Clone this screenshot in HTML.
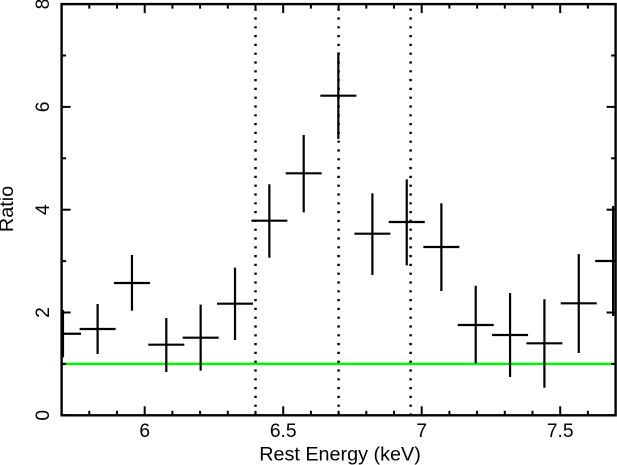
<!DOCTYPE html>
<html>
<head>
<meta charset="utf-8">
<style>
html,body{margin:0;padding:0;background:#fff;width:617px;height:465px;overflow:hidden}
svg{display:block}
text{font-family:"Liberation Sans",Arial,sans-serif;fill:#000}
</style>
</head>
<body>
<svg id="chart" width="617" height="465" viewBox="0 0 617 465" xmlns="http://www.w3.org/2000/svg"></svg>
<script>
var energies = [5.705,5.830,5.954,6.078,6.202,6.326,6.450,6.574,6.699,6.822,6.946,7.071,7.195,7.319,7.443,7.567,7.691];
var ratios = [1.587,1.679,2.574,1.374,1.510,2.171,3.786,4.708,6.218,3.533,3.761,3.274,1.757,1.562,1.401,2.179,3.002];
var ratioHigh = [2.049,2.165,3.119,1.893,2.152,2.872,4.494,5.453,7.062,4.319,4.591,4.125,2.521,2.379,2.257,3.138,4.072];
var ratioLow = [1.128,1.193,2.035,0.842,0.868,1.465,3.066,3.949,5.375,2.730,2.918,2.418,1.012,0.745,0.537,1.212,1.932];
var binHalfWidth = 0.065;
var lineEnergies = [6.4,6.7,6.96];
var referenceRatio = 1;
var xMajorTicks = [6,6.5,7,7.5];
var xMajorLabels = ["6","6.5","7","7.5"];
var xMinorTicks = [5.8,5.9,6.1,6.2,6.3,6.4,6.6,6.7,6.8,6.9,7.1,7.2,7.3,7.4,7.6];
var yMajorTicks = [0,2,4,6,8];
var yMajorLabels = ["0","2","4","6","8"];
var yMinorTicks = [1,3,5,7];
var xDomain = [5.7,7.7];
var yDomain = [0,8];

var svg = document.getElementById('chart');
var L = 61.6, R = 615.6, T = 4.1, B = 415.3;
function xs(v){ return L + (v - xDomain[0]) / (xDomain[1] - xDomain[0]) * (R - L); }
function ys(v){ return B - (v - yDomain[0]) / (yDomain[1] - yDomain[0]) * (B - T); }
function mk(tag, attrs, parent){
  var el = document.createElementNS('http://www.w3.org/2000/svg', tag);
  for (var k in attrs) el.setAttribute(k, attrs[k]);
  (parent || svg).appendChild(el);
  return el;
}
function ln(x1,y1,x2,y2,w,color,parent){
  return mk('line',{x1:x1,y1:y1,x2:x2,y2:y2,stroke:color||'#000','stroke-width':w},parent);
}

var refLine = ln(L, ys(referenceRatio), R, ys(referenceRatio), 2.5, '#00f400');



lineEnergies.forEach(function(e){
  var d = ln(xs(e), T + 4.5, xs(e), B, 2.5, '#000');
  d.setAttribute('stroke-dasharray', '2.2 6.6');
  
  
});

energies.forEach(function(e,i){
  var g = mk('g',{});
  
  
  ln(xs(e), ys(ratioHigh[i]), xs(e), ys(ratioLow[i]), 2.2, '#000', g);
  ln(Math.max(L, xs(e - binHalfWidth)), ys(ratios[i]), Math.min(R, xs(e + binHalfWidth)), ys(ratios[i]), 2.2, '#000', g);
});

var axes = mk('g',{});


mk('rect',{x:L,y:T,width:R-L,height:B-T,fill:'none',stroke:'#000','stroke-width':2.4},axes);

xMajorTicks.forEach(function(v){
  ln(xs(v),B,xs(v),B-9,2,'#000',axes);
  ln(xs(v),T,xs(v),T+9,2,'#000',axes);
});
xMinorTicks.forEach(function(v){
  ln(xs(v),B,xs(v),B-4.5,2,'#000',axes);
  ln(xs(v),T,xs(v),T+4.5,2,'#000',axes);
});
yMajorTicks.forEach(function(v){
  ln(L,ys(v),L+9,ys(v),2,'#000',axes);
  ln(R,ys(v),R-9,ys(v),2,'#000',axes);
});
yMinorTicks.forEach(function(v){
  ln(L,ys(v),L+4.5,ys(v),2,'#000',axes);
  ln(R,ys(v),R-4.5,ys(v),2,'#000',axes);
});

xMajorTicks.forEach(function(v,i){
  var t = mk('text',{x:xs(v),y:436.8,'font-size':19.2,'text-anchor':'middle'});
  t.textContent = xMajorLabels[i];
  
  
});
yMajorTicks.forEach(function(v,i){
  var t = mk('text',{x:0,y:0,'font-size':19.2,'text-anchor':'middle',transform:'translate(49,'+ys(v)+') rotate(-90)'});
  t.textContent = yMajorLabels[i];
  
  
});

var xTitle = mk('text',{x:340,y:460.6,'font-size':19.8,'text-anchor':'middle'});
xTitle.textContent = 'Rest Energy (keV)';



var yTitle = mk('text',{x:0,y:0,'font-size':19.8,'text-anchor':'middle',transform:'translate(13,209) rotate(-90)'});
yTitle.textContent = 'Ratio';


</script>
</body>
</html>
